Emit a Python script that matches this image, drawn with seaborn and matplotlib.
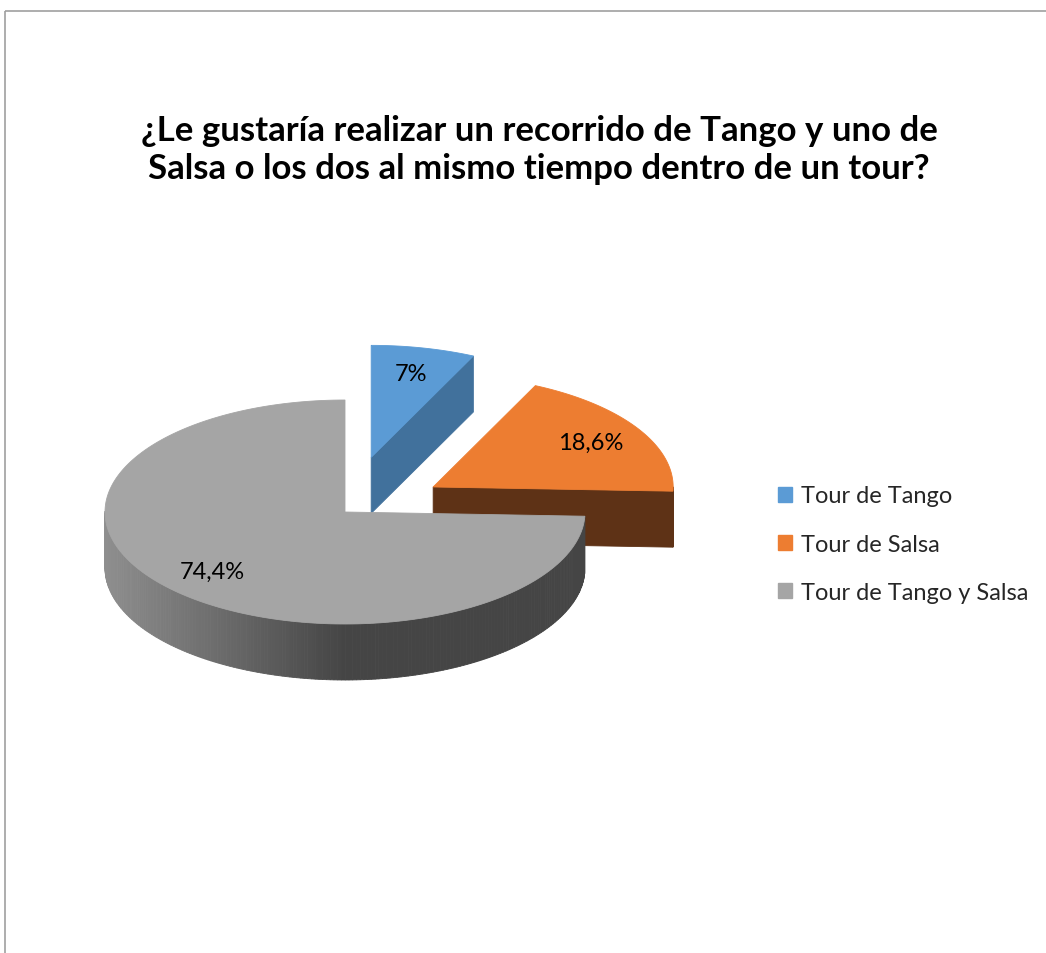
import numpy as np
import matplotlib
matplotlib.use("Agg")
import matplotlib.pyplot as plt
from matplotlib.patches import Polygon, Rectangle, Patch
import seaborn as sns

# DATA
categories = ["Tour de Tango", "Tour de Salsa", "Tour de Tango y Salsa"]
percent = [7.0, 18.6, 74.4]
labels = ["7%", "18,6%", "74,4%"]
title = ("¿Le gustaría realizar un recorrido de Tango y uno de\n"
         "Salsa o los dos al mismo tiempo dentro de un tour?")

sns.set_theme(style="white")
plt.rcParams["font.family"] = ["Lato", "DejaVu Sans"]

top_colors = sns.color_palette(["#5b9bd5", "#ed7d31", "#a5a5a5"])
side_colors = ["#41719c", "#5e3216", None]   # None -> shaded gray wall
explode = [0.5, 0.43, 0.0]

fig = plt.figure(figsize=(10.46, 9.54), dpi=100)
ax = fig.add_axes([0, 0, 1, 1])
ax.set_xlim(0, 1046)
ax.set_ylim(954, 0)
ax.axis("off")

# pseudo 3D pie geometry (pixel space)
cx, cy = 345, 513
rx, ry = 240, 112
depth = 56


def pt(ox, oy, ang, r=1.0):
    a = np.radians(ang)
    return ox + r * rx * np.cos(a), oy - r * ry * np.sin(a)


def wall_color(x, base):
    if base is not None:
        return base
    # gray wall: light on the left, dark from the middle on
    t = np.clip((x - (cx - rx)) / rx, 0, 1)
    light = np.array([0.56, 0.56, 0.56])
    dark = np.array([0.27, 0.27, 0.27])
    return tuple(light + (dark - light) * t)


# Excel starts at 12 o'clock and goes clockwise
start = 90.0
for i, p in enumerate(percent):
    a2 = start
    a1 = start - p * 3.6
    start = a1
    mid = (a1 + a2) / 2
    ox = cx + explode[i] * rx * np.cos(np.radians(mid))
    oy = cy - explode[i] * ry * np.sin(np.radians(mid))

    # outer wall, only the front-facing part
    ts = np.linspace(a1, a2, 300)
    for t0, t1 in zip(ts[:-1], ts[1:]):
        tm = (t0 + t1) / 2
        if np.sin(np.radians(tm)) >= 0:
            continue
        x0, y0 = pt(ox, oy, t0)
        x1, y1 = pt(ox, oy, t1)
        col = wall_color((x0 + x1) / 2, side_colors[i])
        ax.add_patch(Polygon([(x0, y0), (x1, y1), (x1, y1 + depth), (x0, y0 + depth)],
                             closed=True, facecolor=col, edgecolor=col, lw=0.6))

    # radial cut faces
    dark = side_colors[i] if side_colors[i] is not None else "#5a5a5a"
    for a, vis in [(a1, np.cos(np.radians(a1)) > 1e-6), (a2, np.cos(np.radians(a2)) < -1e-6)]:
        if vis:
            ex, ey = pt(ox, oy, a)
            ax.add_patch(Polygon([(ox, oy), (ex, ey), (ex, ey + depth), (ox, oy + depth)],
                                 closed=True, facecolor=dark, edgecolor=dark, lw=0.6))

    # top face
    arc = [pt(ox, oy, t) for t in np.linspace(a1, a2, 200)]
    ax.add_patch(Polygon([(ox, oy)] + arc, closed=True,
                         facecolor=top_colors[i], edgecolor=top_colors[i], lw=0.6))

    lx, ly = pt(ox, oy, mid, 0.77)
    ax.text(lx, ly, labels[i], ha="center", va="center", fontsize=17, color="black")

ax.text(539, 150, title, ha="center", va="center", fontsize=25,
        fontweight="bold", linespacing=1.2, color="black")

handles = [Patch(facecolor=c, edgecolor=c) for c in top_colors]
ax.legend(handles, categories, loc="center left",
          bbox_to_anchor=(757 / 1046, 1 - 545 / 954), frameon=False,
          fontsize=17, handlelength=0.6, handleheight=0.6,
          handletextpad=0.35, labelspacing=1.15)

# chart area border
ax.add_patch(Rectangle((4.5, 11.5), 2000, 2000, fill=False,
                       edgecolor="#a0a0a0", lw=1.2))

plt.savefig("out.png", dpi=100)
